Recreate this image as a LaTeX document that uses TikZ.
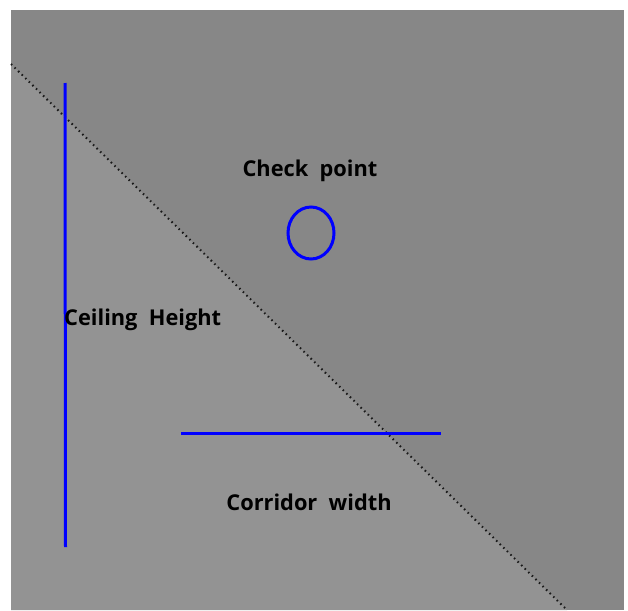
\documentclass[tikz,border=0pt]{standalone}
\usepackage{fontspec}
\setsansfont{Open Sans}
\usetikzlibrary{positioning, shapes.geometric}
\definecolor{wallgray}{RGB}{135,135,135}
\definecolor{floorgray}{RGB}{147,147,147}
\definecolor{markblue}{RGB}{0,0,255}
\tikzset{
  marker/.style = {draw=markblue, line width=3pt},
  lab/.style    = {font=\sffamily\bfseries\fontsize{21.8}{26}\selectfont, text=black, inner sep=0pt},
  seam/.style   = {draw=black!90, line width=2pt, dash pattern=on 1.5pt off 3.5pt},
}
\begin{document}
\begin{tikzpicture}[x=1pt,y=-1pt]
\useasboundingbox (0,0) rectangle (628,610);

% Backdrop
\fill[white] (0,0) rectangle (628,610);
\fill[wallgray] (11,10) rectangle (624,610);
\coordinate (seamtop) at (11,64);
\coordinate (seambot) at (567,610);
\fill[floorgray] (seamtop) -- (seambot) -- (11,610) -- cycle;
\draw[seam] (seamtop) -- (seambot);

% Measuring marks
\coordinate (ceiltop) at (65,83);
\coordinate (ceilbot) at (65.5,547);
\draw[marker] (ceiltop) -- (ceilbot);
\coordinate (corrleft) at (181,433);
\coordinate (corrright) at (441,433);
\draw[marker] (corrleft) -- (corrright);
\node (check) [draw=markblue, line width=3pt, ellipse, minimum width=46pt, minimum height=52pt, inner sep=0pt] at (311,233) {};

% Labels
\node (checklab) [lab] at (310,171) {Check~ point};
\node (ceillab)  [lab, anchor=west] at (64,320) {Ceiling~ Height};
\node (corrlab)  [lab] at (309,502) {Corridor~ width};

\end{tikzpicture}
\end{document}
